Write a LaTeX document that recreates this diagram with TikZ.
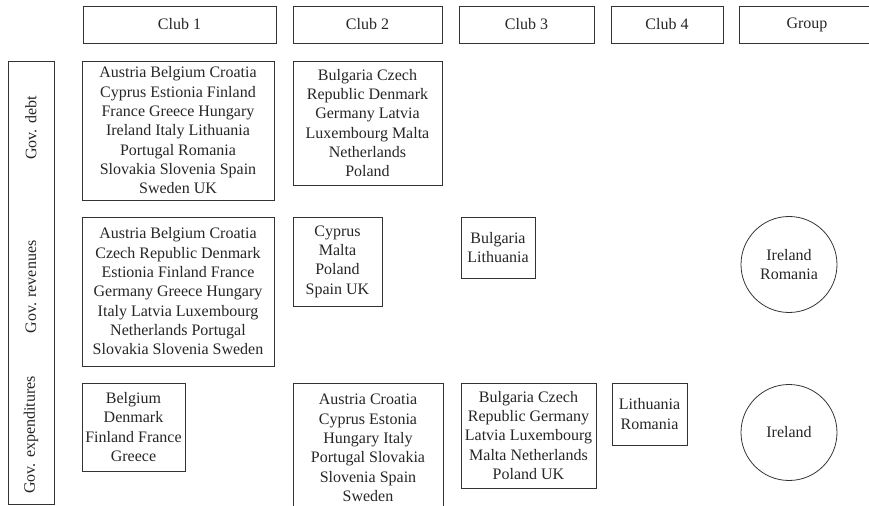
\documentclass[tikz,border=0pt]{standalone}
\usepackage{amsmath}
\usepackage{fontspec}
\setmainfont{Liberation Serif}
\usepackage{tikz}

\tikzset{
  clubbox/.style={draw=black!80, line width=0.6pt, rectangle, inner sep=0pt, align=center,
    text=black!85, font=\fontsize{12}{14.5}\selectfont},
  groupcirc/.style={draw=black!80, line width=0.6pt, circle, inner sep=0pt, align=center,
    minimum size=72pt, text=black!85, font=\fontsize{12}{14.5}\selectfont},
  rowlabel/.style={rotate=90, inner sep=0pt, text=black!85, font=\fontsize{12}{14.5}\selectfont}
}

\begin{document}
\begin{tikzpicture}[x=0.75pt,y=0.75pt,yscale=-1,xscale=1]
%set diagram left start at 0, and has height of 506
\useasboundingbox (0,0) rectangle (869,506);
\clip (0,0) rectangle (869,506);

%Shape: Header Rectangles
\node [clubbox, minimum width=144.75pt, minimum height=27.75pt] (hclub1) at (179.5,24.5) {Club 1};
\node [clubbox, minimum width=111.75pt, minimum height=27.75pt] (hclub2) at (367.5,24.5) {Club 2};
\node [clubbox, minimum width=101.25pt, minimum height=27.75pt] (hclub3) at (526.5,24.5) {Club 3};
\node [clubbox, minimum width=84pt, minimum height=27.75pt] (hclub4) at (667,24.5) {Club 4};
\node [clubbox, minimum width=102pt, minimum height=27.75pt] (hgroup) at (807,24.5) {Group};

%Shape: Rectangle (row labels)
\node [clubbox, minimum width=34.5pt, minimum height=332.25pt] (rows) at (31,282.5) {};
% Text Node
\node [rowlabel] (ldebt) at (31,128) {Gov. debt};
% Text Node
\node [rowlabel] (lrev) at (31,287) {Gov. revenues};
% Text Node
\node [rowlabel] (lexp) at (31,435) {Gov. expenditures};

%Shape: Rectangle [debt]
\node [clubbox, minimum width=144pt, minimum height=104.25pt] (debt1) at (178,130.5)
  {Austria Belgium Croatia\\Cyprus Estionia Finland\\France Greece Hungary\\Ireland Italy Lithuania\\Portugal Romania\\Slovakia Slovenia Spain\\Sweden UK};
\node [clubbox, minimum width=111.75pt, minimum height=93pt] (debt2) at (367.5,123)
  {Bulgaria Czech\\Republic Denmark\\Germany Latvia\\Luxembourg Malta\\Netherlands\\Poland};

%Shape: Rectangle [revenues]
\node [clubbox, minimum width=144pt, minimum height=111.75pt] (rev1) at (178,291.5)
  {Austria Belgium Croatia\\Czech Republic Denmark\\Estionia Finland France\\Germany Greece Hungary\\Italy Latvia Luxembourg\\Netherlands Portugal\\Slovakia Slovenia Sweden};
\node [clubbox, minimum width=66.75pt, minimum height=66.75pt] (rev2) at (337.5,261.5)
  {Cyprus\\Malta\\Poland\\Spain UK};
\node [clubbox, minimum width=55.5pt, minimum height=45.75pt] (rev3) at (498,247.5)
  {Bulgaria\\Lithuania};
%Shape: Circle
\node [groupcirc] (revg) at (789,264.5) {Ireland\\Romania};

%Shape: Rectangle [expenditures]
\node [clubbox, minimum width=77.25pt, minimum height=66pt] (exp1) at (133.5,427)
  {Belgium\\Denmark\\Finland France\\Greece};
\node [clubbox, minimum width=112.5pt, minimum height=97.5pt] (exp2) at (368,448)
  {Austria Croatia\\Cyprus Estonia\\Hungary Italy\\Portugal Slovakia\\Slovenia Spain\\Sweden};
\node [clubbox, minimum width=101.25pt, minimum height=78.75pt] (exp3) at (528.5,435.5)
  {Bulgaria Czech\\Republic Germany\\Latvia Luxembourg\\Malta Netherlands\\Poland UK};
\node [clubbox, minimum width=56.25pt, minimum height=46.5pt] (exp4) at (649.5,414)
  {Lithuania\\Romania};
%Shape: Circle
\node [groupcirc] (expg) at (789,432.5) {Ireland};

\end{tikzpicture}
\end{document}
